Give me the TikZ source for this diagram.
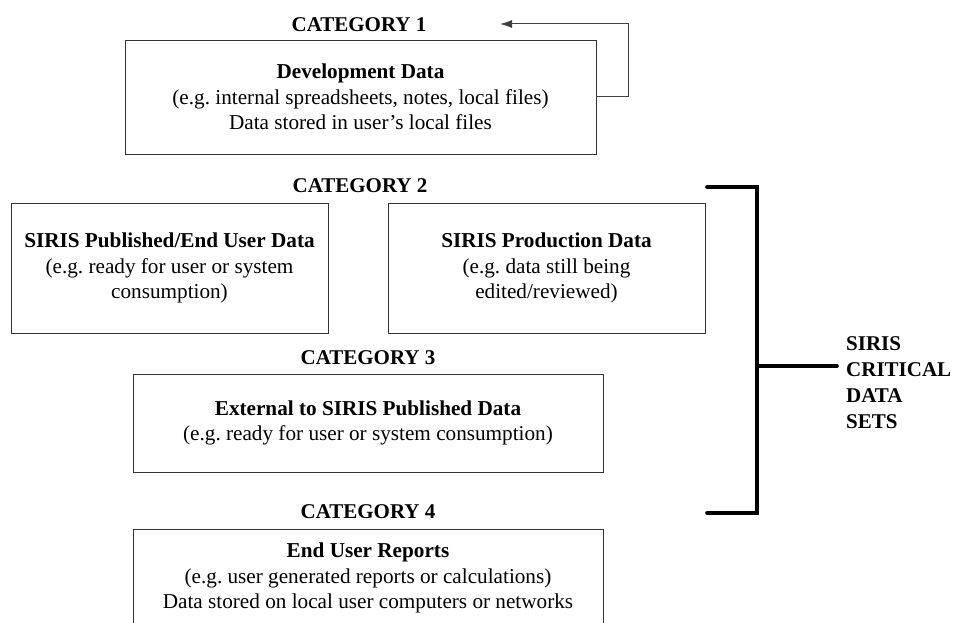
\documentclass[tikz,border=0pt]{standalone}
\usepackage{fontspec}
\setmainfont{Liberation Serif}
\usetikzlibrary{arrows.meta}
\frenchspacing
\begin{document}
\begin{tikzpicture}[x=1pt,y=-1pt,
  every node/.style={font=\fontsize{21.2}{25.5}\selectfont},
  databox/.style={draw=black!80, line width=0.9pt, align=center, inner sep=0pt},
  catlabel/.style={font=\fontsize{21}{25.5}\selectfont\bfseries, inner sep=0pt},
  connector/.style={draw=black!75, line width=1pt},
  bracketline/.style={line width=3.6pt, line cap=round, line join=miter}]
\useasboundingbox (0,0) rectangle (956,623);
\clip (0,0) rectangle (956,623);

% Category labels
\node[catlabel] (c1) at (359,25) {CATEGORY 1};
\node[catlabel] (c2) at (360,186) {CATEGORY 2};
\node[catlabel] (c3) at (368,358) {CATEGORY 3};
\node[catlabel] (c4) at (368,512) {CATEGORY 4};

% Boxes
\node[databox, minimum width=471pt, minimum height=114pt] (dev) at (360.5,97)
  {\textbf{Development Data}\\(e.g. internal spreadsheets, notes, local files)\\Data stored in user’s local files};
\node[databox, minimum width=317pt, minimum height=130pt] (pub) at (169.5,268)
  {\textbf{SIRIS Published/End User Data}\\(e.g. ready for user or system\\consumption)};
\node[databox, minimum width=317pt, minimum height=130pt] (prod) at (546.5,268)
  {\textbf{SIRIS Production Data}\\(e.g. data still being\\edited/reviewed)};
\node[databox, minimum width=470pt, minimum height=98pt] (ext) at (368,423)
  {\textbf{External to SIRIS Published Data}\\(e.g. ready for user or system consumption)};
\node[databox, minimum width=470pt, minimum height=98pt] (rep) at (368,578)
  {\textbf{End User Reports}\\(e.g. user generated reports or calculations)\\Data stored on local user computers or networks};

% Feedback arrow from Development Data to Category 1
\coordinate (tip) at (500,24);
\draw[connector, -{Latex[length=12pt,width=8pt]}] (dev.east) -- ++(32,0) |- (tip);

% Bracket
\coordinate (btop) at (707,187);
\coordinate (bbot) at (707,513);
\coordinate (bmid) at (757,366);
\coordinate (bend) at (837,366);
\draw[bracketline] (btop) -- (757,187) -- (757,513) -- (bbot);
\draw[bracketline] (bmid) -- (bend);

\node[anchor=base west, align=left, inner sep=0pt,
      font=\fontsize{21}{26}\selectfont\bfseries] (crit) at (846,428.5)
  {SIRIS\\CRITICAL\\DATA\\SETS};
\end{tikzpicture}
\end{document}
